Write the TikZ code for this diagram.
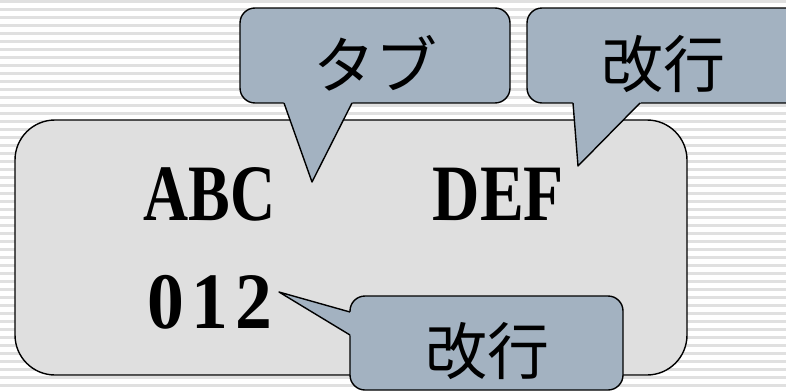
\documentclass[tikz,border=0pt]{standalone}
\usepackage{fontspec}
\setmainfont{Liberation Serif}
\newfontfamily\jpfont{Noto Sans CJK JP}
\usetikzlibrary{calc}
\definecolor{calloutfill}{HTML}{A3B2C1}
\definecolor{mainfill}{HTML}{DFDFDF}
\definecolor{stripecol}{HTML}{E0E0E0}
\newcommand{\monocell}[1]{\makebox[44pt]{\scalebox{0.92}[1]{#1}}}
\begin{document}
\begin{tikzpicture}[x=1pt,y=-1pt,line width=1.4pt,line join=round,
  mainbox/.style={draw=black,fill=mainfill,rounded corners=40pt,inner sep=0pt,
    minimum width=672pt,minimum height=255pt},
  callout/.style={draw=black,fill=calloutfill,rounded corners=15pt,inner sep=0pt},
  jplabel/.style={inner sep=0pt,font=\jpfont\fontsize{62}{62}\selectfont},
  bigtext/.style={inner sep=0pt,anchor=base west,font=\bfseries\fontsize{80}{80}\selectfont}]
\useasboundingbox (0,0) rectangle (786,391);
\clip (0,0) rectangle (786,391);
% striped background
\fill[white] (0,0) rectangle (786,391);
\foreach \k in {0,...,49} {
  \fill[stripecol] (0,8*\k) rectangle (786,8*\k+3);
}
% main box
\node[mainbox] (main) at (351,247.5) {};
\node[bigtext] (abc) at (143,220) {\scalebox{0.78}[1]{ABC}};
\node[bigtext] (def) at (432,220) {\scalebox{0.82}[1]{DEF}};
\node[bigtext] (num) at (143,328) {\monocell{0}\monocell{1}\monocell{2}};
% callout: tab
\node[callout,minimum width=270pt,minimum height=95pt] (tab) at (375,55.5) {};
\coordinate (tabA) at (284,103);
\coordinate (tabB) at (352,103);
\coordinate (tabtip) at (312,182);
\fill[calloutfill] ($(tabtip)!1.05!(tabA)$) -- (tabtip) -- ($(tabtip)!1.05!(tabB)$) -- cycle;
\draw (tabA) -- (tabtip) -- (tabB);
\node[jplabel] (tablabel) at (375,63.5) {タブ};
% callout: newline (top right)
\node[callout,minimum width=290pt,minimum height=95pt] (nlA) at (672,55.5) {};
\coordinate (nlAa) at (573,103);
\coordinate (nlAb) at (640,103);
\coordinate (nlAtip) at (578,166);
\fill[calloutfill] ($(nlAtip)!1.06!(nlAa)$) -- (nlAtip) -- ($(nlAtip)!1.06!(nlAb)$) -- cycle;
\draw (nlAa) -- (nlAtip) -- (nlAb);
\node[jplabel] (nlAlabel) at (663,64.5) {改行};
% callout: newline (bottom)
\node[callout,minimum width=273pt,minimum height=94pt] (nlB) at (486.5,343) {};
\coordinate (nlBa) at (350,312);
\coordinate (nlBb) at (350,335);
\coordinate (nlBtip) at (279,292);
\fill[calloutfill] ($(nlBtip)!1.05!(nlBa)$) -- (nlBtip) -- ($(nlBtip)!1.05!(nlBb)$) -- cycle;
\draw (nlBa) -- (nlBtip) -- (nlBb);
\node[jplabel] (nlBlabel) at (487.5,351.5) {改行};
\end{tikzpicture}
\end{document}
